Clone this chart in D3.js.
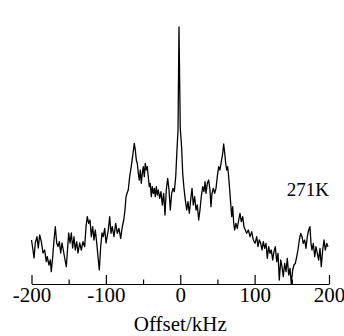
<!DOCTYPE html>
<html>
<head>
<meta charset="utf-8">
<script src="https://cdn.jsdelivr.net/npm/d3@7"></script>
<style>
  body { margin: 0; background: #fff; }
  svg text { font-family: "Liberation Serif", "Times New Roman", serif; fill: #000; }
</style>
</head>
<body>
<svg id="chart"></svg>
<script>
// spectrum: offset (kHz) and intensity (arb. units, central peak = 257)
const offsetKHz = [
  -200, -198.0, -196.6, -194.9, -192.6, -190.9, -189.0, -186.8, -184.5, -182.3,
  -180.1, -178.8, -176.5, -174.7, -173.4, -171.5, -169.7, -168.0, -166.1, -164.4,
  -162.6, -160.7, -159.0, -157.2, -155.4, -153.2, -151.3, -150.0, -148.2, -146.5,
  -144.6, -142.9, -141.1, -139.2, -137.5, -135.2, -133.0, -130.8, -128.5, -126.7,
  -125.0, -123.1, -121.3, -119.6, -117.7, -116.0, -114.2, -112.3, -110.6, -108.8,
  -107.0, -105.2, -103.5, -101.6, -99.8,
  -96.7, -94.9, -93.1, -91.4, -89.1, -86.8, -84.6, -82.4, -80.1, -77.9,
  -76.0, -74.3, -72.9, -71.6, -69.9, -68.0, -66.6, -65.3, -63.5, -61.8,
  -60.4, -59.1, -57.8, -56.4, -55.1, -53.7, -52.4, -51.0, -49.7, -48.3,
  -47.0, -45.7, -44.3, -43.0, -41.6, -40.3, -38.9, -37.6, -36.2, -34.9,
  -33.6, -32.2, -30.9, -29.5, -27.6, -25.9, -24.1, -22.3, -20.5, -18.8,
  -16.9, -15.1, -13.4, -11.5, -9.8, -8.0, -6.1, -4.4, -3.0, -1.7,
  0,
  1.8, 3.3, 5.0, 6.8, 8.7, 10.4, 12.2, 14.0, 15.8, 17.5, 19.4,
  21.2, 22.9, 24.8, 26.5, 28.3, 30.2, 31.9, 33.3, 34.6, 36.4,
  38.2, 40.0, 41.3, 42.7, 44.4, 46.3, 48.1, 49.8, 51.7, 53.4,
  55.2, 57.1, 58.4, 59.8, 61.1, 62.4, 63.8, 65.1, 66.5, 67.8,
  69.2, 70.5, 71.9, 73.2, 74.9, 76.7, 78.6, 80.3, 82.1, 84.0,
  85.7, 87.5, 89.3, 91.5, 93.8, 96.1, 98.2, 100.5,
  102.8, 104.5, 106.3, 108.2, 109.9, 111.7, 113.5, 115.3, 117.0, 118.9,
  120.7, 122.4, 124.3, 126.0, 127.8, 129.7, 131.4, 133.2, 135.1, 136.8,
  138.5, 140.4, 142.2, 143.9, 145.8, 147.6, 149.3, 151.2, 152.9, 154.7,
  156.6, 158.3, 160.1, 161.9, 163.7, 165.4, 167.3, 169.1, 170.8, 172.7,
  174.4, 175.8, 177.1, 178.9, 180.8, 182.5, 184.3, 186.1, 187.9, 189.6,
  191.5, 193.3, 195.0, 196.9, 198.6, 200
];
const intensity = [
  44, 34, 26, 41, 47.3, 36, 49, 42.3, 31, 34,
  22.3, 27.3, 19, 24, 12.3, 27.3, 44, 57.3, 41, 37.3,
  42.3, 31, 41, 34, 26, 17.3, 37.3, 51, 41, 51,
  36, 47.3, 34, 42.3, 31, 41, 34, 42.3, 37.3, 57.3,
  67.3, 60.7, 64, 47.3, 57.3, 44, 54, 41, 27.3, 14,
  37.3, 51, 47.3, 55.7, 41,
  54, 67.3, 50.7, 57.3, 47.3, 60.7, 50.7, 55.7, 45.7, 57.3,
  64, 74, 87.3, 90.7, 94, 107.3, 114, 120.7, 130.7, 140.7,
  134, 124, 120.7, 110.7, 104, 114, 100.7, 110.7, 117.3, 107.3,
  120.7, 114, 117.3, 107.3, 97.3, 100.7, 87.3, 97.3, 90.7, 95.7,
  87.3, 97.3, 89, 94, 85.7, 92.3, 79, 90.7, 69, 94,
  105.7, 94, 74, 90.7, 95.7, 92.3, 107.3, 134, 154,
  257,
  156, 137.3, 110.7, 95.7, 84, 74, 82.3, 70.7, 84, 95.7, 79,
  87.3, 74, 79, 64, 74, 87.3, 97.3, 92.3, 102.3, 90.7,
  100.7, 104, 94, 77.3, 90.7, 95.7, 90.7, 95.7, 107.3, 117.3,
  114, 122.3, 130.7, 140, 130.7, 120.7, 114, 117.3, 107.3, 94,
  80.7, 67.3, 77.3, 60.7, 54, 60.7, 55.7, 64, 70.7, 62.3,
  67.3, 57.3, 54, 50.7, 54, 47.3, 52.3, 44,
  40.7, 47.3, 37.3, 44, 40.7, 34, 42.3, 35.7, 40.7, 25.7,
  37.3, 30.7, 34, 24, 32.3, 37.3, 22.3, 30.7, 4, 24,
  17.3, 7.3, 20.7, 12.3, 25.7, 9, 15.7, 0, 14, 19,
  20.7, 27.3, 34, 44, 50.7, 47.3, 40.7, 44, 35.7, 47.3,
  54, 57.3, 40.7, 34, 40.7, 27.3, 37.3, 30.7, 24, 35.7,
  17.3, 34, 44, 34, 40.7, 37.3
];
const majorTicks = [-200, -100, 0, 100, 200];
const minorTicks = [-150, -50, 50, 150];
const xLabel = "Offset/kHz";
const tempLabel = "271K";

const W = 344, H = 336;
const svg = d3.select("#chart").attr("width", W).attr("height", H);

const x = d3.scaleLinear().domain([-200, 200]).range([31.5, 329]);
const y = d3.scaleLinear().domain([0, 257]).range([284, 27]);

const spectrum = offsetKHz.map((k, i) => ({k: k, v: intensity[i]}));

// spectrum trace
svg.append("path")
    .datum(spectrum)
    .attr("fill", "none")
    .attr("stroke", "#000")
    .attr("stroke-width", 1.3)
    .attr("stroke-linejoin", "round")
    .attr("d", d3.line().x(d => x(d.k)).y(d => y(d.v)));

// axis, ticks pointing up, plain hyphen for negatives
const axisG = svg.append("g").attr("transform", "translate(0,284)");
axisG.call(d3.axisBottom(x).tickValues(majorTicks).tickSize(-9).tickSizeOuter(0).tickPadding(3).tickFormat(d => String(d)));
axisG.selectAll("text").style("font-size", "21px").attr("font-family", null);
axisG.selectAll("line, path").attr("stroke", "#000").attr("stroke-width", 1.2);

const minorG = svg.append("g").attr("transform", "translate(0,284)");
minorG.call(d3.axisBottom(x).tickValues(minorTicks).tickSize(-4.5).tickSizeOuter(0).tickFormat(""));
minorG.select(".domain").remove();
minorG.selectAll("line").attr("stroke", "#000").attr("stroke-width", 1.2);

svg.append("text")
    .attr("x", x(0))
    .attr("y", 330.5)
    .attr("text-anchor", "middle")
    .style("font-size", "21px")
    .text(xLabel);

svg.append("text")
    .attr("x", 329)
    .attr("y", 196)
    .attr("text-anchor", "end")
    .style("font-size", "19px")
    .text(tempLabel);
</script>
</body>
</html>
